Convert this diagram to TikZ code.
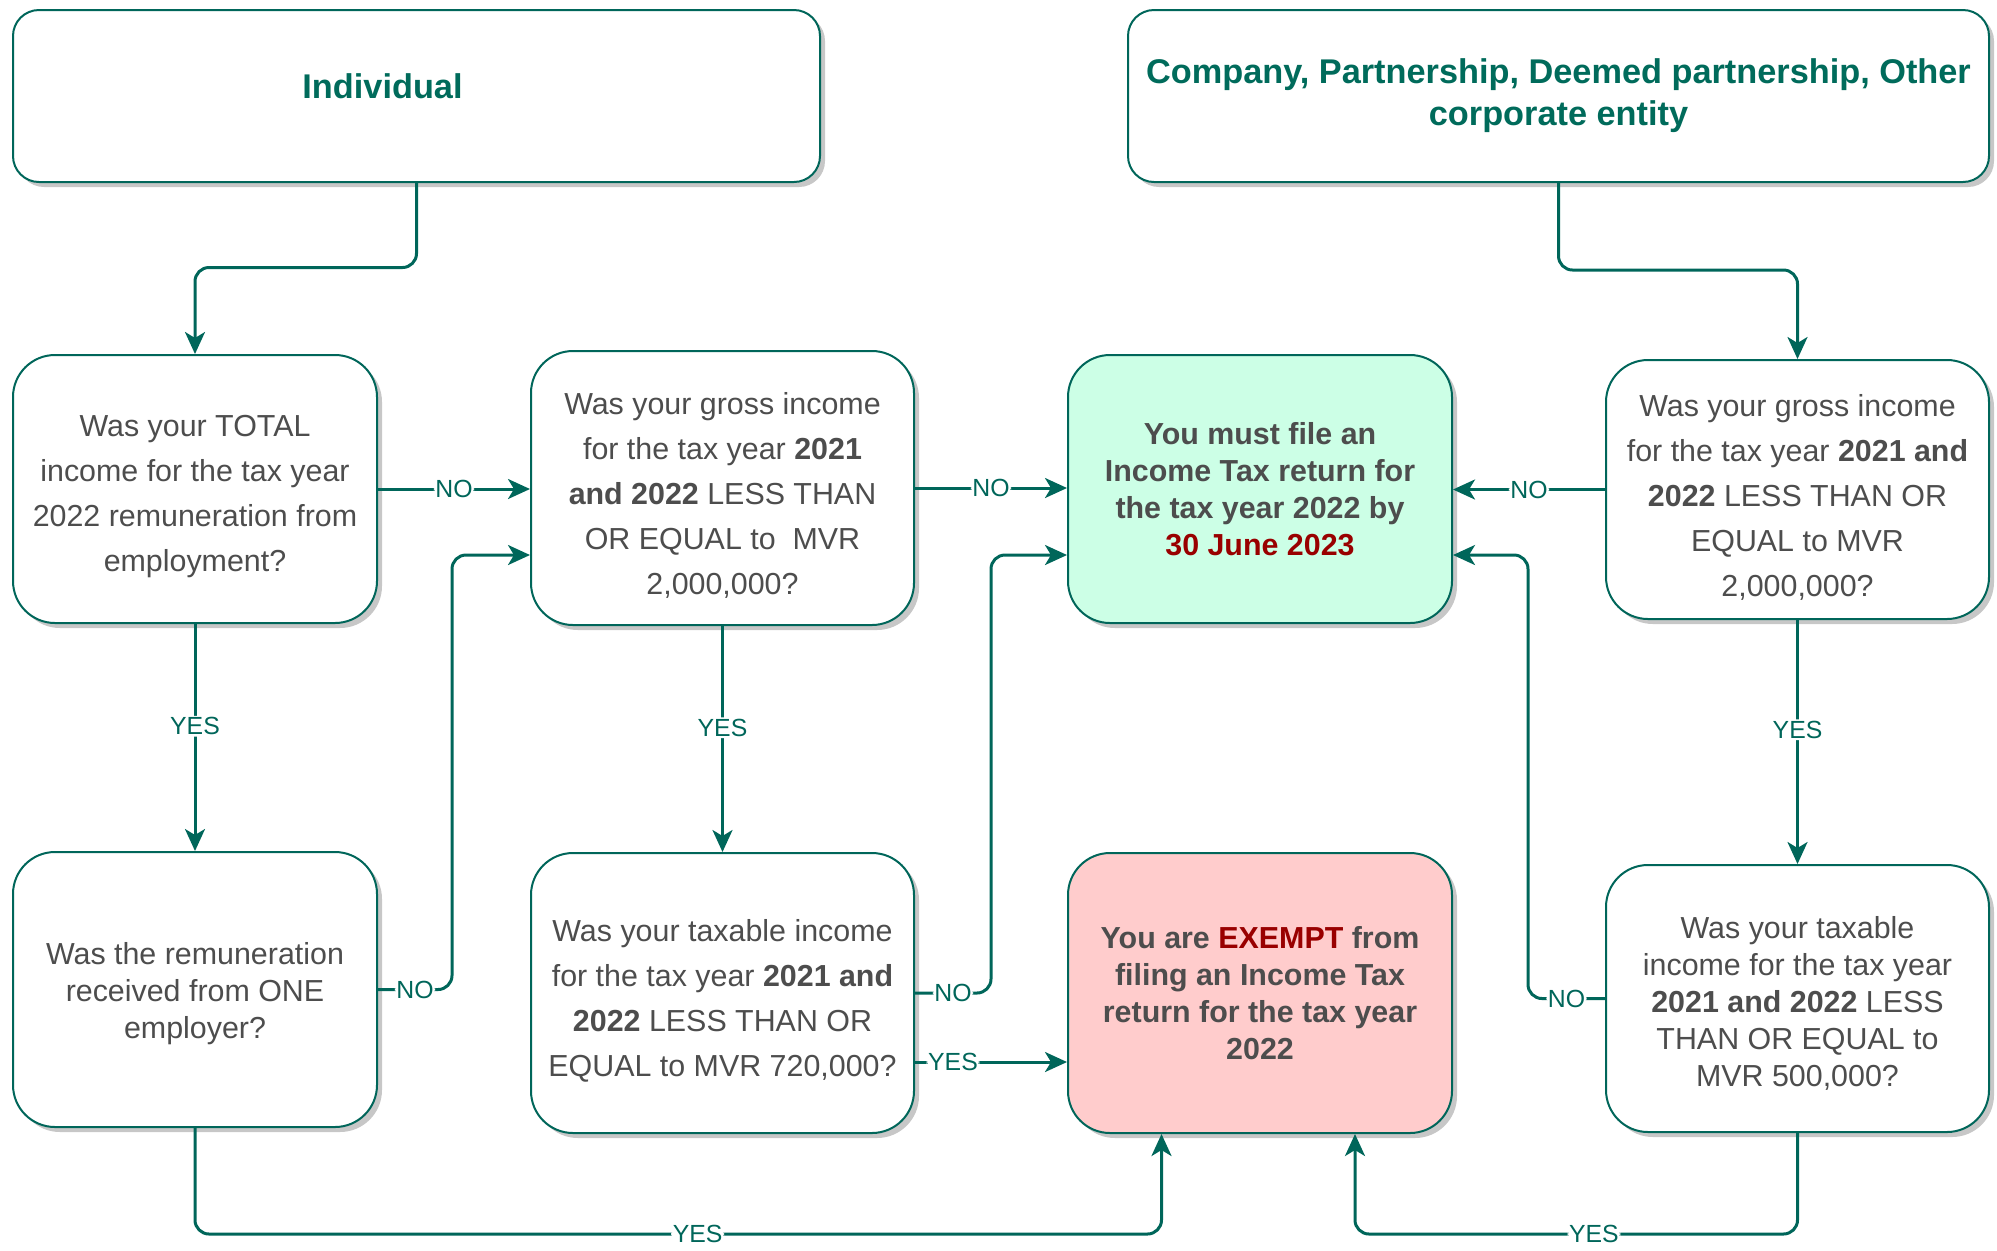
\documentclass[tikz,border=0pt]{standalone}
\usepackage{fontspec}
\setmainfont{Liberation Sans}
\usetikzlibrary{arrows.meta,shadows,calc}
\definecolor{tealline}{HTML}{00665A}
\definecolor{tealtext}{HTML}{006B5B}
\definecolor{graytext}{HTML}{4D4D4D}
\definecolor{darkred}{HTML}{990000}
\definecolor{greenfill}{HTML}{CCFFE6}
\definecolor{redfill}{HTML}{FFCCCC}
\newcommand{\lowA}{\rule{0pt}{18.5pt}}
\newcommand{\lowB}{\rule{0pt}{15.5pt}}
\begin{document}
\begin{tikzpicture}[x=0.5pt,y=-0.5pt,
  shad/.style={drop shadow={shadow xshift=2.5pt,shadow yshift=-2.5pt,fill=black,opacity=0.22}},
  titlebox/.style={draw=tealline,line width=1pt,fill=white,rounded corners=13pt,shad,
    align=center,text=tealtext,font=\fontsize{17.15}{21}\selectfont\bfseries,
    minimum height=86pt},
  qbox/.style={draw=tealline,line width=1pt,fill=white,rounded corners=21pt,shad,
    align=center,text=graytext,font=\fontsize{15.2}{22.5}\selectfont,inner sep=2pt},
  qboxtight/.style={qbox,font=\fontsize{15.2}{18.5}\selectfont},
  endbox/.style={qbox,font=\fontsize{15.2}{18.5}\selectfont\bfseries},
  conn/.style={draw=tealline,line width=1.5pt,rounded corners=7pt,
    -{Stealth[length=11pt,width=10pt,inset=3pt]}},
  lbl/.style={fill=white,text=tealline,font=\fontsize{12.4}{14}\selectfont,inner sep=0.8pt}
]
\useasboundingbox (0,0) rectangle (1997,1250);

% title boxes
\node[titlebox,minimum width=403.5pt] (Ind) at (416.5,96)
  {Individual\hspace*{34pt}\rule[-9.6pt]{0pt}{9.6pt}};
\node[titlebox,minimum width=430.5pt] (Com) at (1558.5,96)
  {Company, Partnership, Deemed partnership, Other\\corporate entity};

% question boxes
\node[qbox,minimum width=182pt,minimum height=134pt] (Q1) at (195,489)
  {\lowA Was your TOTAL\\income for the tax year\\2022 remuneration from\\employment?};
\node[qbox,minimum width=191.5pt,minimum height=137pt] (Q2) at (722.5,488)
  {\lowA Was your gross income\\for the tax year \textbf{2021}\\\textbf{and 2022} LESS THAN\\OR EQUAL to\ \ MVR\\2,000,000?};
\node[endbox,fill=greenfill,minimum width=192pt,minimum height=134pt] (File) at (1260,489)
  {You must file an\\Income Tax return for\\the tax year 2022 by\\\textcolor{darkred}{30 June 2023}};
\node[qbox,minimum width=191.5pt,minimum height=129.5pt] (Q5) at (1797.5,489.5)
  {\lowA Was your gross income\\for the tax year \textbf{2021 and}\\\textbf{2022} LESS THAN OR\\EQUAL to MVR\\2,000,000?};

\node[qboxtight,minimum width=182pt,minimum height=137.5pt] (Q3) at (195,989.5)
  {\lowB Was the remuneration\\received from ONE\\employer?};
\node[qbox,minimum width=191.5pt,minimum height=140pt] (Q4) at (722.5,993)
  {\lowA Was your taxable income\\for the tax year \textbf{2021 and}\\\textbf{2022} LESS THAN OR\\EQUAL to MVR 720,000?};
\node[endbox,fill=redfill,minimum width=192pt,minimum height=140pt] (Exempt) at (1260,993)
  {You are \textcolor{darkred}{EXEMPT} from\\filing an Income Tax\\return for the tax year\\2022};
\node[qboxtight,minimum width=191.5pt,minimum height=133.5pt] (Q6) at (1797.5,998.5)
  {\lowB Was your taxable\\income for the tax year\\\textbf{2021 and 2022} LESS\\THAN OR EQUAL to\\MVR 500,000?};

% helper coordinates
\coordinate (kt1) at (0,267.5);
\coordinate (kt2) at (0,270);
\coordinate (kx1) at (452,555);
\coordinate (kx2) at (991,555);
\coordinate (kx3) at (1528,555);
\coordinate (q4yes) at ([yshift=-34.5pt]Q4.east);
\coordinate (kb1) at (1161.5,1234);
\coordinate (kb2) at (1355,1234);

% connectors
\draw[conn] (Ind.south) -- (Ind.south |- kt1) -| (Q1.north);
\draw[conn] (Com.south) -- (Com.south |- kt2) -| (Q5.north);

\draw[conn] (Q1.east) -- node[lbl]{NO} (Q1.east -| Q2.west);
\draw[conn] (Q2.east) -- node[lbl]{NO} (Q2.east -| File.west);
\draw[conn] (Q5.west) -- node[lbl]{NO} (Q5.west -| File.east);

\draw[conn] (Q1.south) -- node[lbl,pos=0.45]{YES} (Q3.north);
\draw[conn] (Q2.south) -- node[lbl,pos=0.45]{YES} (Q4.north);
\draw[conn] (Q5.south) -- node[lbl,pos=0.45]{YES} (Q6.north);

\draw[conn] (Q3.east) -- node[lbl]{NO} (Q3.east -| kx1) -- (kx1) -- (kx1 -| Q2.west);
\draw[conn] (Q4.east) -- node[lbl]{NO} (Q4.east -| kx2) -- (kx2) -- (kx2 -| File.west);
\draw[conn] (q4yes) -- node[lbl,pos=0.25]{YES} (q4yes -| Exempt.west);
\draw[conn] (Q6.west) -- node[lbl]{NO} (Q6.west -| kx3) -- (kx3) -- (kx3 -| File.east);

\draw[conn] (Q3.south) -- (Q3.south |- kb1) -- node[lbl,pos=0.52]{YES} (kb1) -- (kb1 |- Exempt.south);
\draw[conn] (Q6.south) -- (Q6.south |- kb2) -- node[lbl,pos=0.46]{YES} (kb2) -- (kb2 |- Exempt.south);
\end{tikzpicture}
\end{document}
